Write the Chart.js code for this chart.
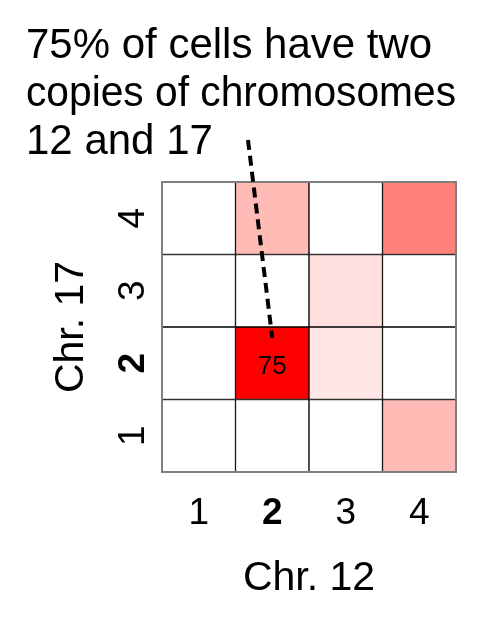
<!DOCTYPE html>
<html>
<head>
<meta charset="utf-8">
<script src="https://cdn.jsdelivr.net/npm/chart.js@4.4.0/dist/chart.umd.min.js"></script>
<style>
  html, body { margin: 0; padding: 0; background: #fff; }
  #wrap { width: 502px; height: 628px; }
</style>
</head>
<body>
<div id="wrap"><canvas id="heat"></canvas></div>
<script>
// copy number of chr. 12 (columns) vs chr. 17 (rows), % of cells
const chr12Labels = ['1', '2', '3', '4'];
const chr17Labels = [1, 2, 3, 4];
const pctChr17_1 = [0, 0, 0, 20];
const pctChr17_2 = [0, 75, 7, 0];
const pctChr17_3 = [0, 0, 9, 0];
const pctChr17_4 = [0, 20, 0, 37];
const rows = [pctChr17_1, pctChr17_2, pctChr17_3, pctChr17_4];
const maxPct = 75;
const titleLines = ['75% of cells have two', 'copies of chromosomes', '12 and 17'];
// callout line, in data units (x = category index, y = chr17 value)
const calloutFrom = {x: 0.67, y: 5.08};
const calloutTo = {x: 1.0, y: 2.35};

const FONT = '"Liberation Sans", Arial, sans-serif';
Chart.defaults.color = '#000';
Chart.defaults.font.family = FONT;

function cellColor(v) {
  const t = Math.min(v / maxPct, 1);
  const g = Math.round(255 * (1 - t));
  const b = Math.max(0, Math.round(255 * (1 - t * 1.07)));
  return 'rgb(255,' + g + ',' + b + ')';
}

const datasets = rows.map((vals, r) => ({
  label: 'Chr. 17 = ' + chr17Labels[r],
  data: vals.map(() => [chr17Labels[r] - 0.5, chr17Labels[r] + 0.5]),
  pct: vals,
  backgroundColor: vals.map(cellColor),
  borderColor: '#000',
  borderWidth: 1,
  borderSkipped: false,
  grouped: false,
  barPercentage: 1,
  categoryPercentage: 1
}));

const extras = {
  id: 'extras',
  afterDatasetsDraw(chart) {
    const ctx = chart.ctx;
    const a = chart.chartArea;
    const xs = chart.scales.x, ys = chart.scales.y;
    ctx.save();
    // value labels
    ctx.font = '26px ' + FONT;
    ctx.fillStyle = '#000';
    ctx.textAlign = 'center';
    ctx.textBaseline = 'middle';
    chart.data.datasets.forEach((ds, di) => {
      const meta = chart.getDatasetMeta(di);
      ds.pct.forEach((v, i) => {
        if (v >= 50) {
          const bar = meta.data[i];
          ctx.fillText(String(v), bar.x, (bar.y + bar.base) / 2 + 4);
        }
      });
    });
    // outer frame
    ctx.strokeStyle = '#7f7f7f';
    ctx.lineWidth = 2;
    ctx.strokeRect(a.left, a.top, a.right - a.left, a.bottom - a.top);
    // callout
    ctx.strokeStyle = '#000';
    ctx.lineWidth = 4;
    ctx.setLineDash([10, 6]);
    ctx.beginPath();
    ctx.moveTo(xs.getPixelForValue(calloutFrom.x), ys.getPixelForValue(calloutFrom.y));
    ctx.lineTo(xs.getPixelForValue(calloutTo.x), ys.getPixelForValue(calloutTo.y));
    ctx.stroke();
    ctx.restore();
  }
};

new Chart(document.getElementById('heat'), {
  type: 'bar',
  data: { labels: chr12Labels, datasets: datasets },
  options: {
    responsive: true,
    maintainAspectRatio: false,
    animation: false,
    layout: { padding: { left: 26, right: 46, top: 0, bottom: 0 } },
    plugins: {
      legend: { display: false },
      tooltip: { enabled: false },
      title: {
        display: true,
        text: titleLines,
        align: 'start',
        color: '#000',
        font: { size: 42, weight: 'normal', lineHeight: '48px' },
        padding: { top: 22, bottom: 16 }
      }
    },
    scales: {
      x: {
        offset: true,
        grid: { display: false },
        border: { display: false },
        ticks: {
          padding: 12,
          font: (c) => ({ family: FONT, size: 37, weight: c.index === 1 ? 'bold' : 'normal' })
        },
        title: { display: true, text: 'Chr. 12', font: { size: 41 }, padding: { top: 0, bottom: 25 } },
        afterFit: (s) => { s.height = 156; }
      },
      y: {
        min: 0.5,
        max: 4.5,
        grid: { display: false },
        border: { display: false },
        afterBuildTicks: (s) => { s.ticks = chr17Labels.map(v => ({ value: v })); },
        ticks: {
          minRotation: 90,
          maxRotation: 90,
          crossAlign: 'center',
          padding: 10,
          font: (c) => ({ family: FONT, size: 37, weight: c.tick && c.tick.value === 2 ? 'bold' : 'normal' })
        },
        title: { display: true, text: 'Chr. 17', font: { size: 41 }, padding: { top: 21, bottom: 0 } },
        afterFit: (s) => { s.width = 136; }
      }
    }
  },
  plugins: [extras]
});
</script>
</body>
</html>
